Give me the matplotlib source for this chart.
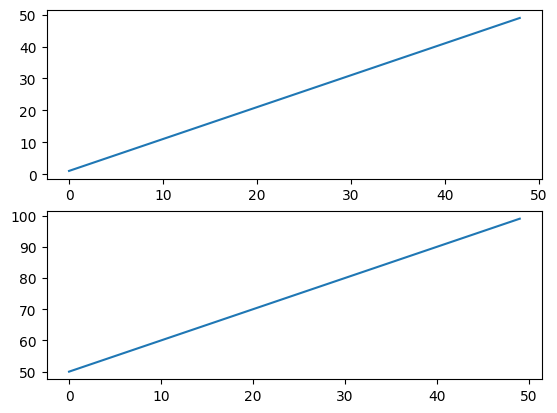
import matplotlib
matplotlib.use("Agg")
import matplotlib.pyplot as plt

# top panel: values 1..49, bottom panel: values 50..99
top_vals = [1, 2, 3, 4, 5, 6, 7, 8, 9, 10, 11, 12, 13, 14, 15, 16, 17, 18, 19, 20,
            21, 22, 23, 24, 25, 26, 27, 28, 29, 30, 31, 32, 33, 34, 35, 36, 37, 38, 39, 40,
            41, 42, 43, 44, 45, 46, 47, 48, 49]
bottom_vals = [50, 51, 52, 53, 54, 55, 56, 57, 58, 59, 60, 61, 62, 63, 64, 65, 66, 67, 68, 69,
               70, 71, 72, 73, 74, 75, 76, 77, 78, 79, 80, 81, 82, 83, 84, 85, 86, 87, 88, 89,
               90, 91, 92, 93, 94, 95, 96, 97, 98, 99]

fig, (ax1, ax2) = plt.subplots(2, 1, figsize=(5.57, 4.14), dpi=100)
fig.subplots_adjust(left=46.5 / 557, right=542.3 / 557,
                    top=1 - 11.3 / 414, bottom=1 - 380.3 / 414, hspace=0.193)

ax1.plot(top_vals)
ax2.plot(bottom_vals)

fig.savefig("out.png")
